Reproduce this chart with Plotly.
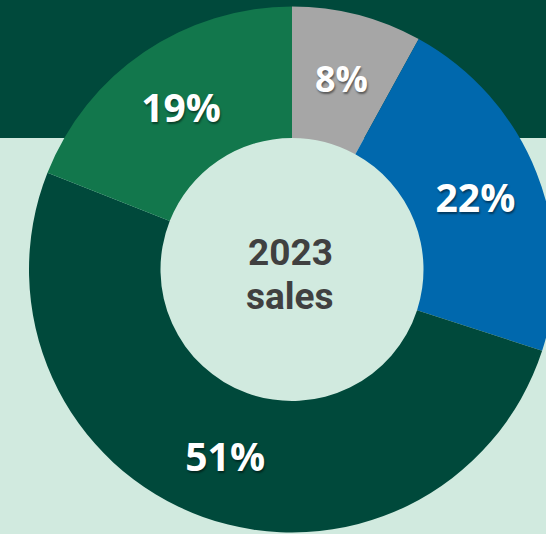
import math
import plotly.graph_objects as go

categories = ["Other", "Segment B", "Segment C", "Segment A"]
values = [8, 22, 51, 19]
colors = ["#a6a6a6", "#0068ad", "#00493b", "#12774c"]
center_lines = ["2023", "sales"]

# figure is a bit wider than the window so the donut is cropped at the right edge
W, H = 560, 534
cx, cy, R = 292, 269.5, 263
HOLE = 0.5
label_font = dict(family="Open Sans", color="white", weight="bold",
                  shadow="1px 2px 2px rgba(0,0,0,0.45)")

# the narrow first slice gets its label at the middle of the ring (plotly would push it outward)
templates = ["" if i == 0 else "%{value}%" for i in range(len(values))]

fig = go.Figure(go.Pie(
    labels=categories,
    values=values,
    hole=HOLE,
    sort=False,
    direction="clockwise",
    rotation=0,
    marker=dict(colors=colors, line=dict(width=0)),
    texttemplate=templates,
    textposition="inside",
    insidetextorientation="horizontal",
    textfont=dict(size=39, **label_font),
    hoverinfo="label+percent",
    showlegend=False,
    domain=dict(x=[(cx - R) / W, (cx + R) / W], y=[(H - cy - R) / H, (H - cy + R) / H]),
))

total = sum(values)
mid_angle = 2 * math.pi * (values[0] / 2) / total
r_mid = R * (1 + HOLE) / 2
lx = cx + r_mid * math.sin(mid_angle)
ly = cy - r_mid * math.cos(mid_angle)

annotations = [dict(text=f"{values[0]}%", x=lx / W, y=1 - ly / H, xref="paper", yref="paper",
                    showarrow=False, xanchor="center", yanchor="middle",
                    font=dict(size=36, **label_font))]

center_y = [252, 296]
annotations += [dict(text=t, x=290 / W, y=1 - yy / H, xref="paper", yref="paper",
                     showarrow=False, xanchor="center", yanchor="middle",
                     font=dict(family="Roboto", size=37, color="#404040", weight="bold"))
                for t, yy in zip(center_lines, center_y)]

fig.update_layout(
    width=W, height=H,
    margin=dict(l=0, r=0, t=0, b=0),
    paper_bgcolor="#d1eadf",
    plot_bgcolor="#d1eadf",
    shapes=[dict(type="rect", xref="paper", yref="paper", x0=0, x1=1,
                 y0=(H - 138) / H, y1=1, fillcolor="#00493b", line=dict(width=0),
                 layer="below")],
    annotations=annotations,
)

fig.write_html(
    "out.html",
    config={"displayModeBar": False},
    post_script="document.body.style.margin='0';document.body.style.overflow='hidden';",
)
